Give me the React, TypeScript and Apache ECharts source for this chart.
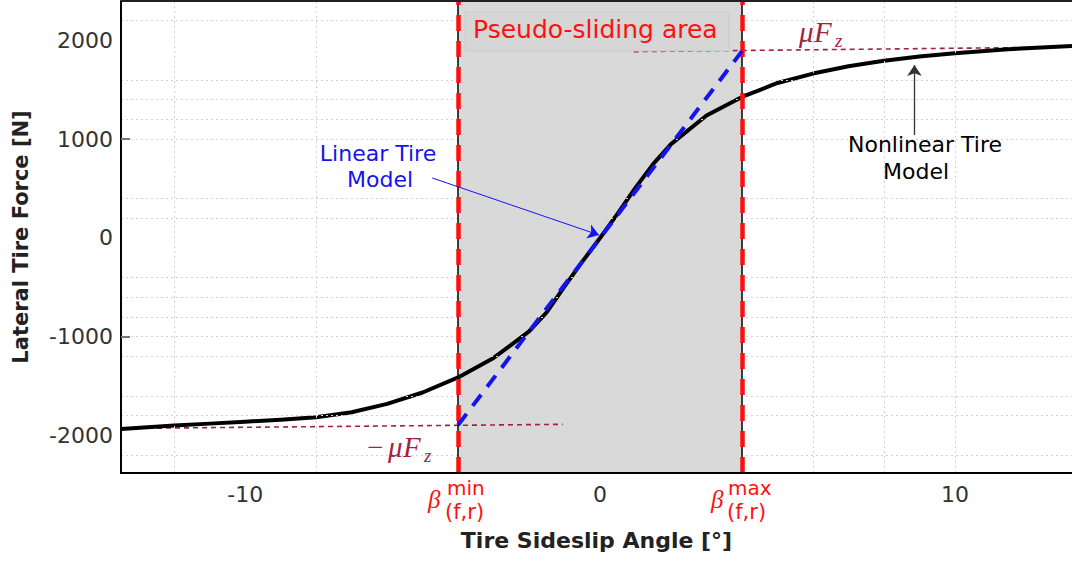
import React, { useEffect, useRef } from "react";
import * as echarts from "echarts";

// ---- axis ticks & grid ----
const xTickValues = [-10, 0, 10];
const yTickValues = [-2000, -1000, 0, 1000, 2000];
const yTickMarks = [-1000, 1000];
const xGridValues = [-12, -8, 6, 8, 10];
const yGridValues = [2200, 1600, 1400, 1200, 1000, 400, 200, -400, -600, -800, -1000, -1200, -1600, -1800, -2200];

// ---- nonlinear tire model ----
const slipAngle = [-13.5, -12, -11, -10, -9, -8, -7, -6, -5, -4, -3, -2, -1.5, -1, -0.5, 0, 0.5, 1, 1.5, 2, 3, 4, 5, 6, 7, 8, 9, 10, 11.5, 13.3];
const nonlinearForce = [-1935, -1900, -1880, -1860, -1840, -1815, -1765, -1680, -1565, -1412, -1215, -945, -750, -490, -240, 0, 250, 510, 750, 950, 1240, 1428, 1570, 1665, 1740, 1795, 1838, 1870, 1912, 1945];

// ---- linear tire model ----
const linearAngle = [-4, 4];
const linearForce = [-1894, 1892];

// ---- friction limits (mu * Fz) ----
const muLowerAngle = [-13.5, -1.05];
const muLowerForce = [-1929, -1887];
const muUpperAngle = [0.95, 13.3];
const muUpperForce = [1887, 1934];

// ---- pseudo-sliding area ----
const pseudoSlidingBounds = [-4, 4];

// ---- annotation arrows [from, to] ----
const linearArrow = [[-4.73, 608], [-0.03, 30]];
const nonlinearArrow = [[8.86, 1043], [8.86, 1752]];

const pairs = (xs: number[], ys: number[]) => xs.map((x, i) => [x, ys[i]]);

const SANS = "DejaVu Sans";
const SERIF = "Liberation Serif";
const RED = "#ff1010";
const DARKRED = "#a3233f";
const BLUE = "#1414ee";

function txt(text: string, x: number, y: number, s: any) {
  return {
    type: "text",
    x,
    y,
    z: 100,
    silent: true,
    style: {
      text,
      fill: s.fill || "#000",
      fontSize: s.fontSize || 22,
      fontFamily: s.fontFamily || SANS,
      fontStyle: s.fontStyle || "normal",
      fontWeight: s.fontWeight || "normal",
      align: s.align || "left",
      verticalAlign: "middle",
    },
  };
}

export default function App() {
  const ref = useRef<HTMLDivElement>(null);

  useEffect(() => {
    if (!ref.current) return;
    const chart = echarts.init(ref.current, null, { renderer: "svg" });

    const option: any = {
      animation: false,
      grid: { left: 121, right: 0, top: 1, bottom: 89 },
      xAxis: {
        type: "value",
        min: -13.5,
        max: 13.3,
        z: 10,
        axisLine: { show: true, onZero: false, lineStyle: { color: "#000", width: 2 } },
        axisTick: { show: false },
        axisLabel: {
          customValues: xTickValues,
          formatter: (v: number) => String(v),
          fontSize: 22,
          color: "#333",
          fontFamily: SANS,
          margin: 10,
        },
        splitLine: { show: false },
        name: "Tire Sideslip Angle [°]",
        nameLocation: "middle",
        nameGap: 56,
        nameTextStyle: { fontSize: 22, fontWeight: "bold", color: "#222", fontFamily: SANS },
      },
      yAxis: {
        type: "value",
        min: -2380,
        max: 2400,
        z: 10,
        axisLine: { show: true, onZero: false, lineStyle: { color: "#000", width: 2 } },
        axisTick: {
          show: true,
          inside: true,
          length: 9,
          customValues: yTickMarks,
          lineStyle: { color: "#777", width: 2 },
        },
        axisLabel: {
          customValues: yTickValues,
          formatter: (v: number) => String(v),
          fontSize: 22,
          color: "#333",
          fontFamily: SANS,
          margin: 8,
        },
        splitLine: { show: false },
        name: "Lateral Tire Force [N]",
        nameLocation: "middle",
        nameGap: 90,
        nameTextStyle: { fontSize: 21, fontWeight: "bold", color: "#222", fontFamily: SANS },
      },
      series: [
        {
          type: "line",
          data: [],
          z: 1,
          silent: true,
          markLine: {
            silent: true,
            symbol: ["none", "none"],
            label: { show: false },
            emphasis: { disabled: true },
            lineStyle: { color: "#d2d2d2", width: 1, type: [2, 3] },
            data: [
              ...xGridValues.map((v) => ({ xAxis: v })),
              ...yGridValues.map((v) => ({ yAxis: v })),
            ],
          },
        },
        {
          type: "line",
          data: [],
          z: 2,
          silent: true,
          markArea: {
            silent: true,
            itemStyle: { color: "#d9d9d9" },
            emphasis: { disabled: true },
            data: [[{ xAxis: pseudoSlidingBounds[0] }, { xAxis: pseudoSlidingBounds[1] }]],
          },
        },
        {
          type: "line",
          data: pairs(muLowerAngle, muLowerForce),
          z: 3,
          silent: true,
          symbol: "none",
          lineStyle: { color: DARKRED, width: 1.6, type: [5, 4] },
        },
        {
          type: "line",
          data: pairs(muUpperAngle, muUpperForce),
          z: 3,
          silent: true,
          symbol: "none",
          lineStyle: { color: DARKRED, width: 1.6, type: [5, 4] },
        },
        {
          type: "line",
          data: pairs(slipAngle, nonlinearForce),
          z: 4,
          silent: true,
          symbol: "none",
          lineStyle: { color: "#000", width: 4, join: "round" },
        },
        {
          type: "line",
          data: pairs(linearAngle, linearForce),
          z: 5,
          silent: true,
          symbol: "none",
          lineStyle: { color: BLUE, width: 4, type: [14, 10] },
        },
        {
          type: "line",
          data: [],
          z: 6,
          silent: true,
          markLine: {
            silent: true,
            symbol: ["none", "none"],
            label: { show: false },
            emphasis: { disabled: true },
            lineStyle: { color: "#000", width: 1.5, type: "solid" },
            data: pseudoSlidingBounds.map((v) => ({ xAxis: v })),
          },
        },
        {
          type: "line",
          data: [],
          z: 7,
          silent: true,
          markLine: {
            silent: true,
            symbol: ["none", "none"],
            label: { show: false },
            emphasis: { disabled: true },
            lineStyle: { color: RED, width: 4.5, type: [16, 10] },
            data: pseudoSlidingBounds.map((v) => ({ xAxis: v })),
          },
        },
        {
          type: "line",
          data: [],
          z: 8,
          silent: true,
          markLine: {
            silent: true,
            symbol: ["none", "arrow"],
            symbolSize: 11,
            label: { show: false },
            emphasis: { disabled: true },
            lineStyle: { color: BLUE, width: 1, type: "solid" },
            data: [[{ coord: linearArrow[0] }, { coord: linearArrow[1] }]],
          },
        },
        {
          type: "line",
          data: [],
          z: 8,
          silent: true,
          markLine: {
            silent: true,
            symbol: ["none", "arrow"],
            symbolSize: 11,
            label: { show: false },
            emphasis: { disabled: true },
            lineStyle: { color: "#333", width: 1.3, type: "solid" },
            data: [[{ coord: nonlinearArrow[0] }, { coord: nonlinearArrow[1] }]],
          },
        },
      ],
      graphic: [
        {
          type: "line",
          z: 100,
          silent: true,
          shape: { x1: 121, y1: 1, x2: 1072, y2: 1 },
          style: { stroke: "#222", lineWidth: 2 },
        },
        {
          type: "rect",
          z: 99,
          silent: true,
          shape: { x: 465, y: 12, width: 264, height: 39 },
          style: { fill: "#d6d6d6", stroke: "#cacaca", lineWidth: 1 },
        },
        txt("Pseudo-sliding area", 473, 29, { fill: RED, fontSize: 25 }),
        // beta labels
        txt("β", 428, 499, { fill: RED, fontSize: 25, fontFamily: SERIF, fontStyle: "italic" }),
        txt("min", 447, 488, { fill: RED, fontSize: 20 }),
        txt("(f,r)", 445, 512, { fill: RED, fontSize: 21 }),
        txt("β", 711, 499, { fill: RED, fontSize: 25, fontFamily: SERIF, fontStyle: "italic" }),
        txt("max", 728, 488, { fill: RED, fontSize: 20 }),
        txt("(f,r)", 727, 512, { fill: RED, fontSize: 21 }),
        // mu Fz labels
        txt("μ", 799, 32, { fill: DARKRED, fontSize: 29, fontFamily: SERIF, fontStyle: "italic" }),
        txt("F", 814, 32, { fill: DARKRED, fontSize: 29, fontFamily: SERIF, fontStyle: "italic" }),
        txt("z", 835, 40, { fill: DARKRED, fontSize: 19, fontFamily: SERIF, fontStyle: "italic" }),
        txt("−", 367, 447, { fill: DARKRED, fontSize: 29, fontFamily: SERIF }),
        txt("μ", 388, 447, { fill: DARKRED, fontSize: 29, fontFamily: SERIF, fontStyle: "italic" }),
        txt("F", 403, 447, { fill: DARKRED, fontSize: 29, fontFamily: SERIF, fontStyle: "italic" }),
        txt("z", 424, 455, { fill: DARKRED, fontSize: 19, fontFamily: SERIF, fontStyle: "italic" }),
        // model labels
        txt("Linear Tire", 378, 153, { fill: BLUE, fontSize: 22, align: "center" }),
        txt("Model", 380, 179, { fill: BLUE, fontSize: 22, align: "center" }),
        txt("Nonlinear Tire", 925, 144, { fill: "#000", fontSize: 22, align: "center" }),
        txt("Model", 916, 171, { fill: "#000", fontSize: 22, align: "center" }),
      ],
    };

    chart.setOption(option);
    return () => chart.dispose();
  }, []);

  return (
    <div
      ref={ref}
      style={{ position: "absolute", left: 0, top: 0, width: 1072, height: 562, background: "#fff" }}
    />
  );
}
